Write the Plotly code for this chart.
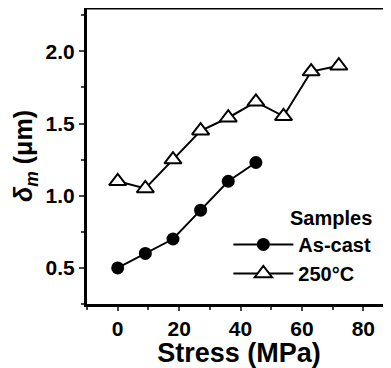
import plotly.graph_objects as go

stress_ascast = [0, 9, 18, 27, 36, 45]
delta_ascast = [0.50, 0.60, 0.70, 0.90, 1.10, 1.23]

stress_250 = [0, 9, 18, 27, 36, 45, 54, 63, 72]
delta_250 = [1.10, 1.05, 1.25, 1.45, 1.54, 1.65, 1.55, 1.86, 1.90]

x_ticks = [0, 20, 40, 60, 80]
y_ticks = [0.5, 1.0, 1.5, 2.0]
y_tick_labels = ["0.5", "1.0", "1.5", "2.0"]

FONT = "Liberation Sans, Arial, sans-serif"

fig = go.Figure()
fig.add_trace(go.Scatter(
    x=stress_ascast, y=delta_ascast, name="As-cast", mode="lines+markers",
    line=dict(color="black", width=2),
    marker=dict(symbol="circle", size=13, color="black"),
))
fig.add_trace(go.Scatter(
    x=stress_250, y=delta_250, name="250°C", mode="lines+markers",
    line=dict(color="black", width=2),
    marker=dict(symbol="triangle-up", size=15, color="white",
                line=dict(color="black", width=2)),
))

# page body has an 8px default margin, so the figure is sized to fit the window
fig.update_layout(
    width=383, height=360,
    margin=dict(l=79, r=0, t=0, b=64, autoexpand=False),
    paper_bgcolor="white", plot_bgcolor="white",
    font=dict(family=FONT, color="black", size=18, weight="bold"),
    showlegend=True,
    legend=dict(
        x=0.465, y=0.267, xanchor="left", yanchor="top",
        bgcolor="rgba(0,0,0,0)", itemwidth=60,
        font=dict(size=20, weight="bold", family=FONT),
        tracegroupgap=0,
    ),
    xaxis=dict(
        range=[-10, 89], tickvals=x_ticks, ticks="outside", ticklen=4, tickwidth=2,
        showline=True, linewidth=3, linecolor="black", mirror=False,
        showgrid=False, zeroline=False, automargin=False,
        tickfont=dict(size=21, weight="bold", family=FONT),
        minor=dict(ticks="outside", ticklen=3, tickwidth=1.5, dtick=10, tick0=0, showgrid=False),
        title=dict(text="Stress (MPa)", font=dict(size=27, weight="bold", family=FONT), standoff=4),
    ),
    yaxis=dict(
        range=[0.25, 2.3], tickvals=y_ticks, ticktext=y_tick_labels,
        ticks="outside", ticklen=5, tickwidth=2,
        showline=True, linewidth=3, linecolor="black", mirror=False,
        showgrid=False, zeroline=False, automargin=False,
        tickfont=dict(size=21, weight="bold", family=FONT),
        minor=dict(ticks="outside", ticklen=3, tickwidth=1.5, dtick=0.25, tick0=0, showgrid=False),
        title=dict(text="<i>δ</i><sub><i>m</i></sub> (μm)",
                   font=dict(size=25, weight="bold", family=FONT), standoff=6),
    ),
    shapes=[dict(type="line", xref="paper", yref="paper", x0=0, x1=1, y0=1, y1=1,
                 line=dict(color="black", width=3))],
    annotations=[dict(text="Samples", xref="paper", yref="paper", x=0.803, y=0.29,
                      xanchor="center", yanchor="middle", showarrow=False,
                      font=dict(size=20, weight="bold", family=FONT))],
)

fig.write_html("out.html")
